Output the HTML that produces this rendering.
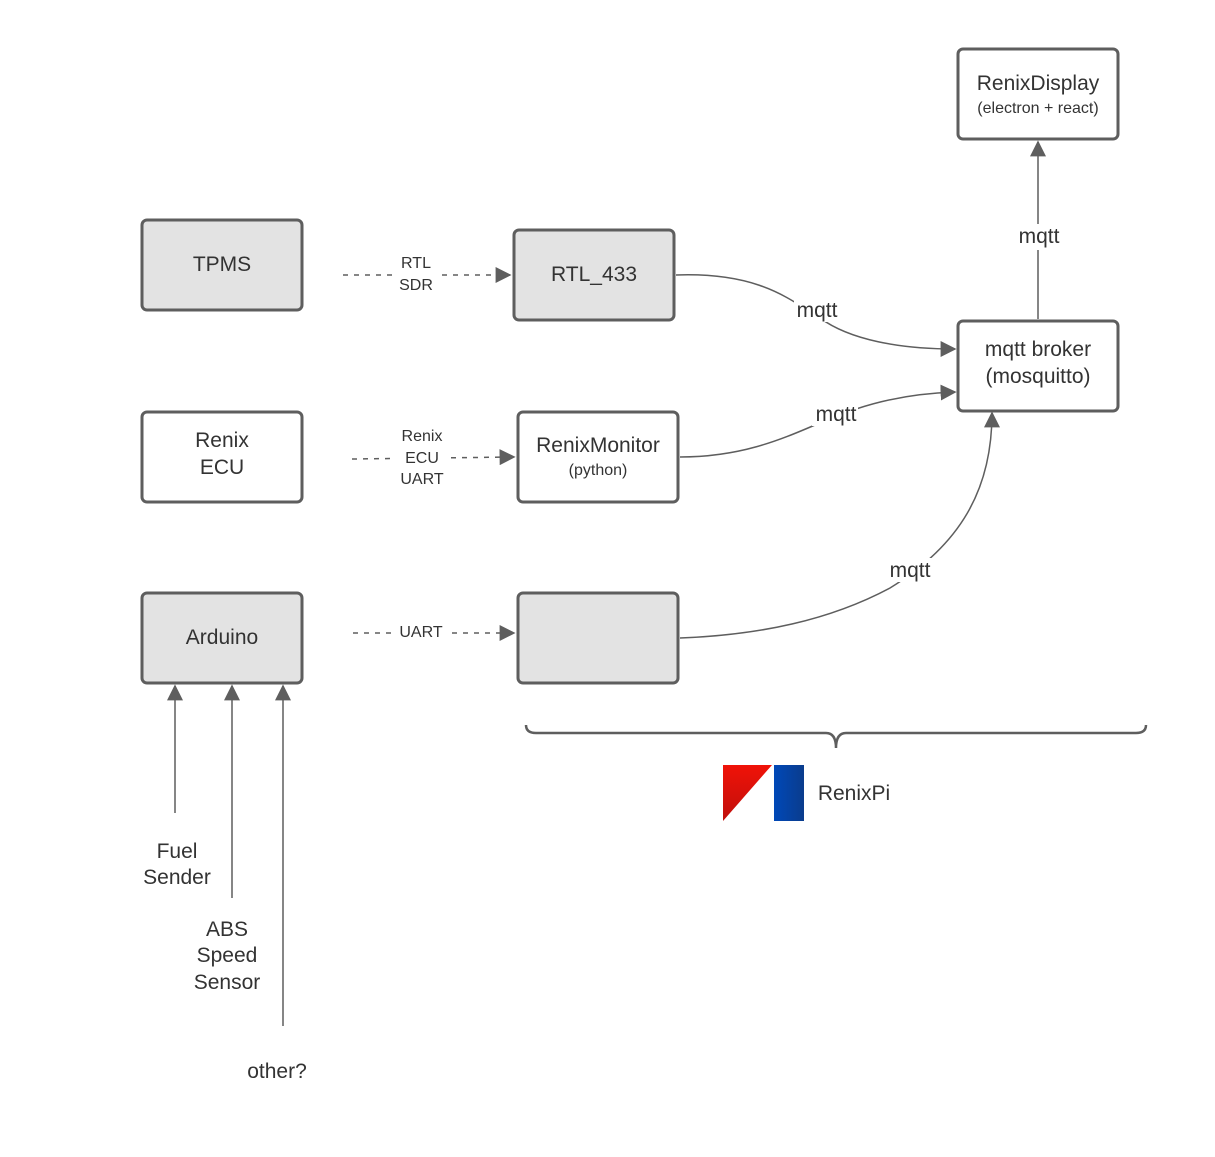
<!DOCTYPE html>
<html><head><style>html,body{margin:0;padding:0;background:#fff}svg{display:block}text{font-family:"Liberation Sans",Arial,sans-serif;fill:#333}</style></head><body>
<svg width="1215" height="1157" viewBox="0 0 1215 1157" xmlns="http://www.w3.org/2000/svg">
<defs>
<marker id="a" viewBox="0 0 10 10" refX="9" refY="5" markerWidth="16" markerHeight="16" markerUnits="userSpaceOnUse" orient="auto"><path d="M0,0 L10,5 L0,10 z" fill="#5e5e5e"/></marker>
<linearGradient id="r" x1="0" y1="0" x2="0" y2="1"><stop offset="0" stop-color="#f01208"/><stop offset="1" stop-color="#c0100c"/></linearGradient>
<linearGradient id="b" x1="0" y1="0" x2="1" y2="0"><stop offset="0" stop-color="#0048b8"/><stop offset="1" stop-color="#0a3c8c"/></linearGradient>
</defs>
<g stroke="#5e5e5e" stroke-width="3">
<rect x="142" y="220" width="160" height="90" rx="5" fill="#e3e3e3"/>
<rect x="514" y="230" width="160" height="90" rx="5" fill="#e3e3e3"/>
<rect x="958" y="321" width="160" height="90" rx="5" fill="#fff"/>
<rect x="958" y="49" width="160" height="90" rx="5" fill="#fff"/>
<rect x="142" y="412" width="160" height="90" rx="5" fill="#fff"/>
<rect x="518" y="412" width="160" height="90" rx="5" fill="#fff"/>
<rect x="142" y="593" width="160" height="90" rx="5" fill="#e3e3e3"/>
<rect x="518" y="593" width="160" height="90" rx="5" fill="#e3e3e3"/>
</g>
<g stroke="#5e5e5e" stroke-width="1.5" fill="none">
<path d="M343,275 L510,275" stroke-dasharray="5,6" marker-end="url(#a)"/>
<path d="M352,459 L514,457" stroke-dasharray="5,6" marker-end="url(#a)"/>
<path d="M353,633 L514,633" stroke-dasharray="5,6" marker-end="url(#a)"/>
<path d="M676,275 C760,272 790,300 820,318 C850,340 900,349 955,349" marker-end="url(#a)"/>
<path d="M680,457 C740,457 780,440 815,425 C860,405 900,394 955,392" marker-end="url(#a)"/>
<path d="M680,638 C760,635 830,620 890,588 C960,545 992,490 992,413" marker-end="url(#a)"/>
<path d="M1038,319 L1038,142" marker-end="url(#a)"/>
<path d="M175,813 L175,686" marker-end="url(#a)"/>
<path d="M232,898 L232,686" marker-end="url(#a)"/>
<path d="M283,1026 L283,686" marker-end="url(#a)"/>
<path d="M526,725 Q526,733 536,733 L826,733 Q836,733 836,748 Q836,733 846,733 L1136,733 Q1146,733 1146,725" stroke-width="2.5"/>
</g>
<g fill="#fff">
<rect x="395" y="255" width="42" height="38"/>
<rect x="396" y="425" width="52" height="64"/>
<rect x="395" y="622" width="52" height="18"/>
<rect x="794" y="298" width="46" height="24"/>
<rect x="812" y="402" width="46" height="24"/>
<rect x="886" y="558" width="48" height="24"/>
<rect x="1015" y="224" width="48" height="26"/>
</g>
<g text-anchor="middle" font-size="21">
<text x="222" y="271">TPMS</text>
<text x="594" y="281">RTL_433</text>
<text x="1038" y="356">mqtt broker</text>
<text x="1038" y="383">(mosquitto)</text>
<text x="1038" y="90">RenixDisplay</text>
<text x="1038" y="113" font-size="16">(electron + react)</text>
<text x="222" y="447">Renix</text>
<text x="222" y="474">ECU</text>
<text x="598" y="452">RenixMonitor</text>
<text x="598" y="475" font-size="16">(python)</text>
<text x="222" y="644">Arduino</text>
<text x="817" y="317">mqtt</text>
<text x="836" y="421">mqtt</text>
<text x="910" y="577">mqtt</text>
<text x="1039" y="243">mqtt</text>
<text x="177" y="858">Fuel</text>
<text x="177" y="884">Sender</text>
<text x="227" y="936">ABS</text>
<text x="227" y="962">Speed</text>
<text x="227" y="989">Sensor</text>
<text x="277" y="1078">other?</text>
<text x="854" y="800" text-anchor="middle">RenixPi</text>
</g>
<g text-anchor="middle" font-size="16">
<text x="416" y="268">RTL</text>
<text x="416" y="290">SDR</text>
<text x="422" y="441">Renix</text>
<text x="422" y="463">ECU</text>
<text x="422" y="484">UART</text>
<text x="421" y="637">UART</text>
</g>
<path d="M723,765 L772,765 L723,821 z" fill="url(#r)"/>
<rect x="774" y="765" width="30" height="56" fill="url(#b)"/>
</svg>
</body></html>
